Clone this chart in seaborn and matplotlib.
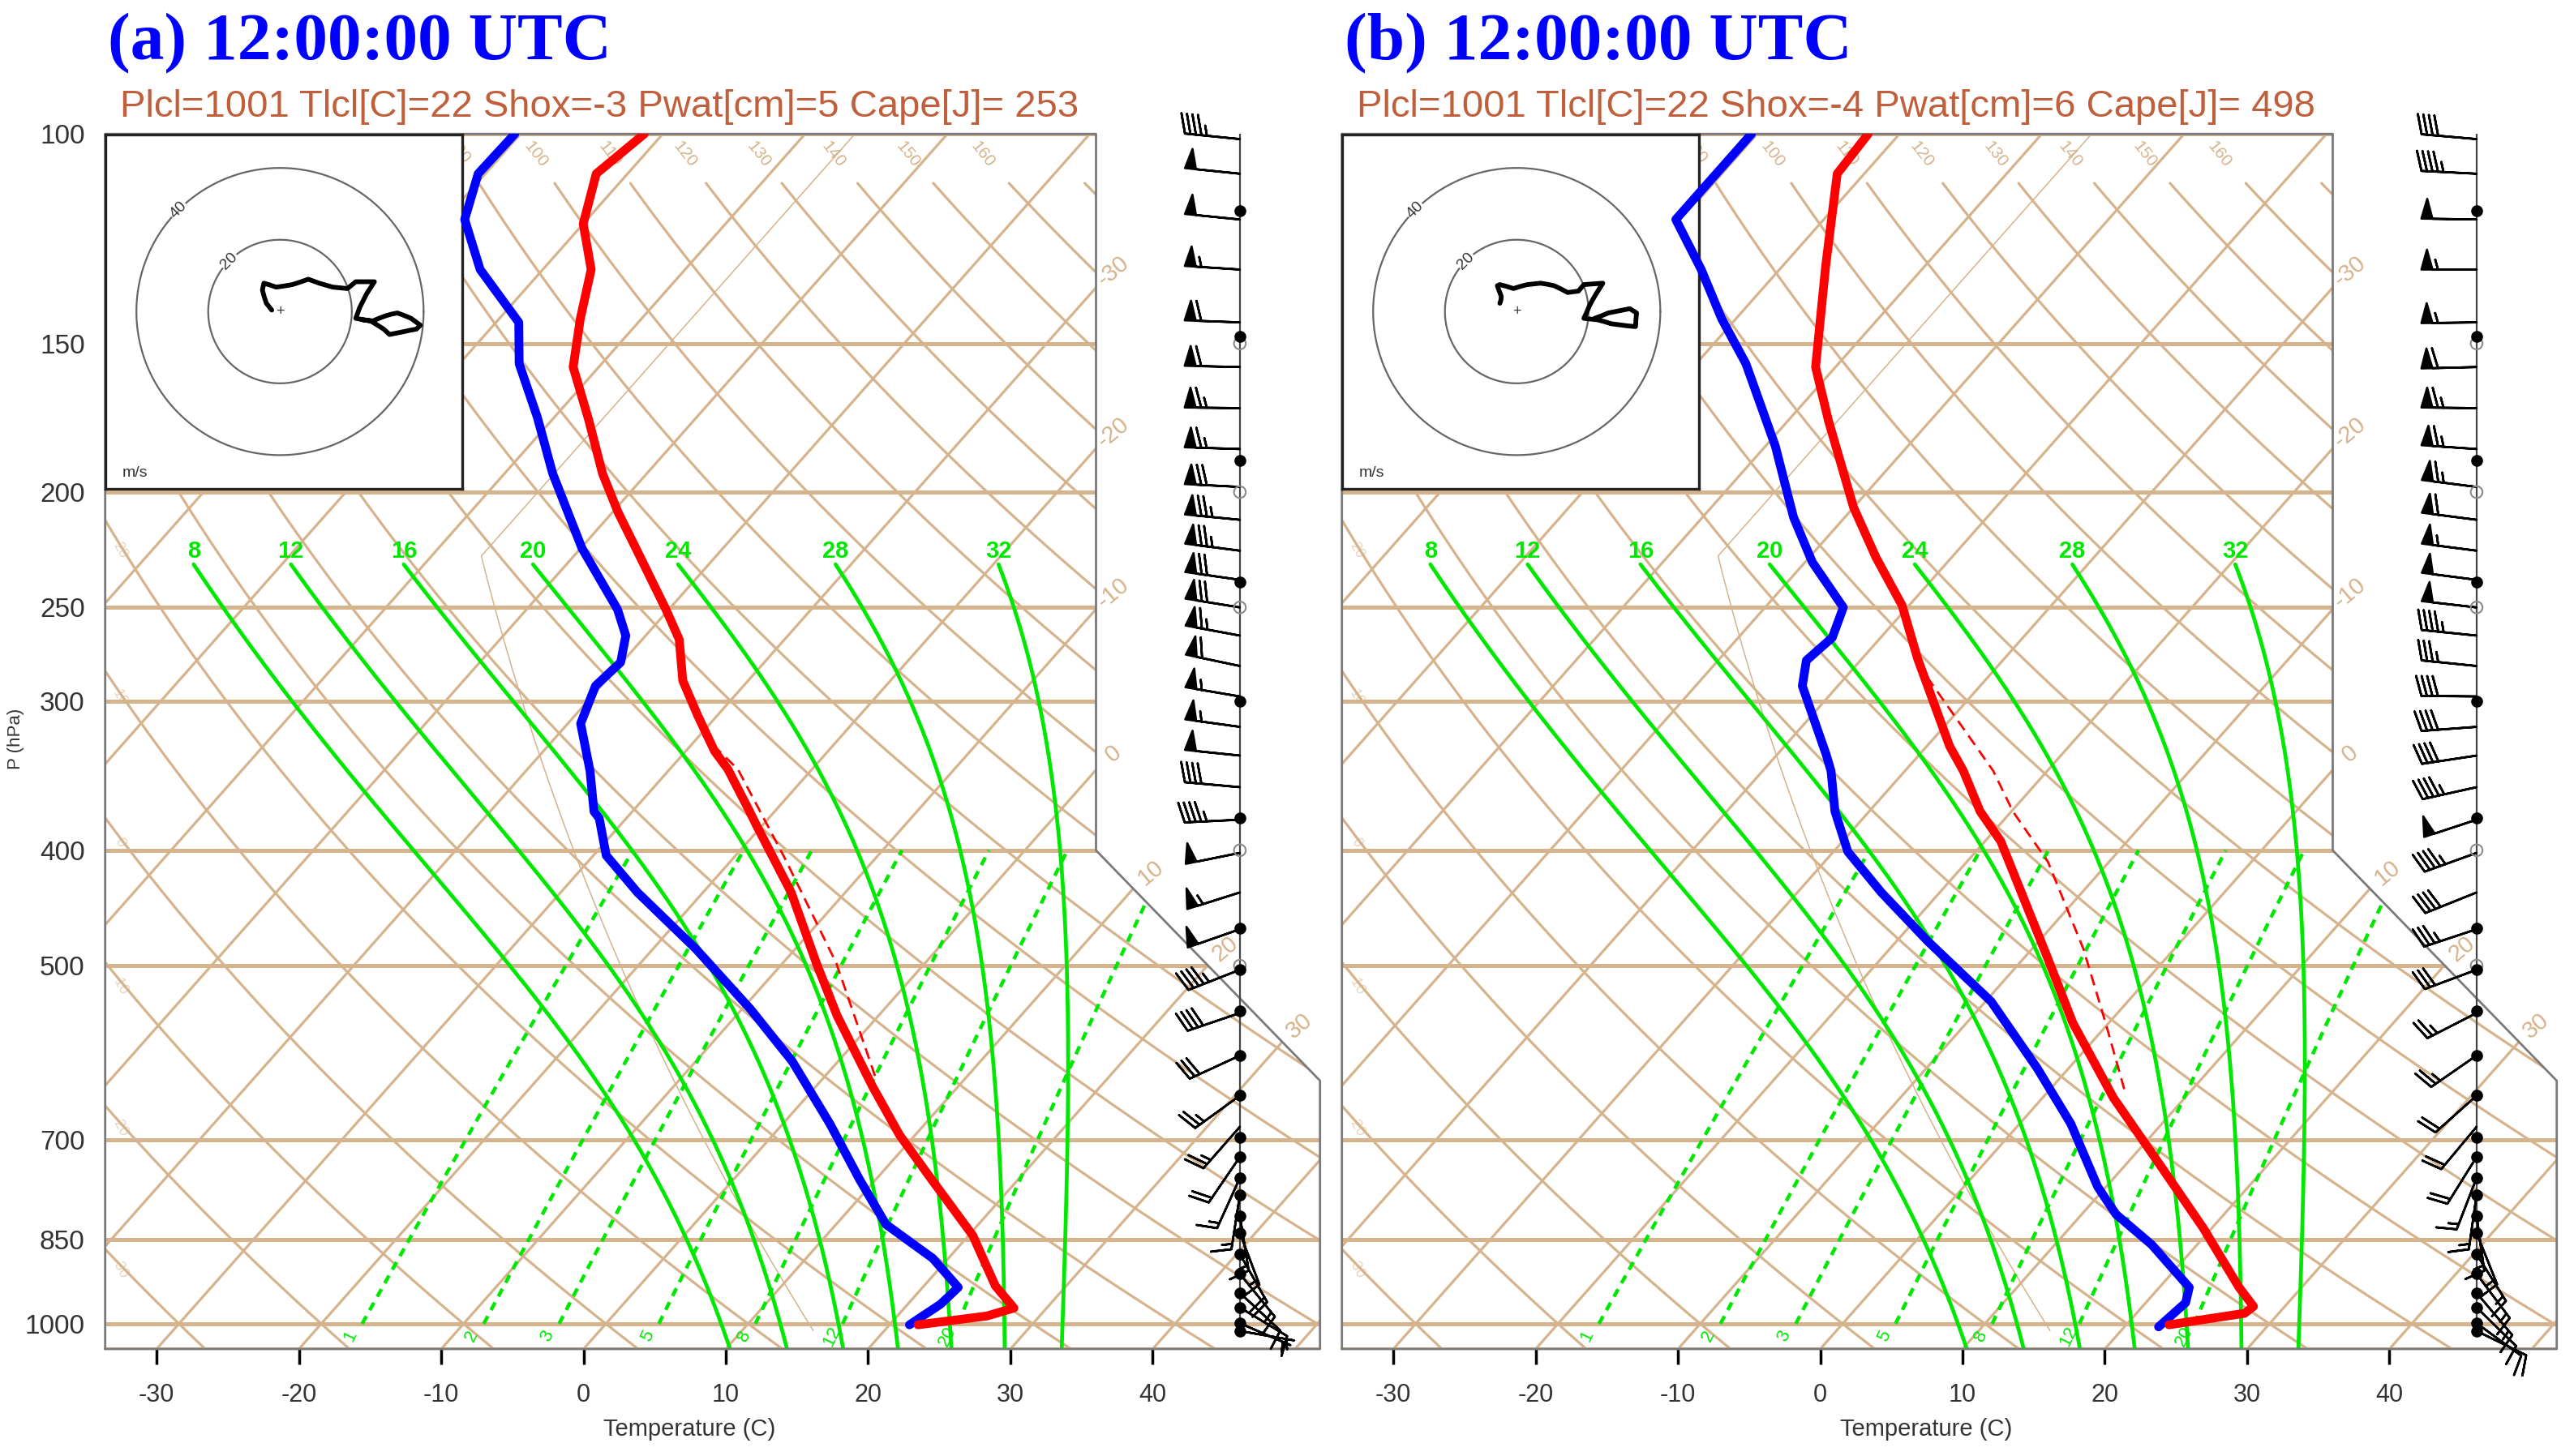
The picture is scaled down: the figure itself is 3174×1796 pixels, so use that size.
import numpy as np
import matplotlib
matplotlib.use("Agg")
import matplotlib.pyplot as plt
import seaborn as sns
from matplotlib.patches import Polygon

# ---- sounding values (p in hPa, T in deg C) ----
# panel (a)
p_t_a = [1002, 985, 970, 929, 843, 751, 694, 632, 551, 498, 434, 382, 370, 342, 330, 308,
         288, 266, 251, 228, 208, 193, 174, 157, 143, 130, 119, 108, 100]
t_a = [22.0, 26.3, 27.7, 25.0, 20.3, 13.5, 8.9, 4.0, -2.9, -7.6, -13.8, -20.3, -21.9, -25.9,
       -28.0, -31.4, -34.6, -37.4, -40.2, -45.0, -49.6, -53.1, -57.4, -61.8, -64.3, -66.6,
       -70.0, -72.2, -71.3]
p_td_a = [1002, 963, 932, 881, 825, 757, 679, 602, 544, 484, 434, 404, 376, 371, 343, 313,
          291, 278, 264, 251, 223, 193, 173, 156, 144, 130, 118, 108, 100]
td_a = [21.4, 22.3, 22.5, 18.9, 13.5, 8.9, 3.3, -3.2, -9.4, -17.0, -24.6, -29.1, -31.9,
        -32.7, -35.5, -39.1, -40.4, -40.1, -41.4, -43.6, -49.9, -56.6, -61.2, -65.8, -68.4,
        -74.4, -78.6, -80.5, -80.4]
p_par_a = [619, 498, 406, 342, 320]
t_par_a = [3.5, -6.2, -16.4, -25.2, -29.8]

# panel (b)
p_t_b = [1002, 980, 967, 932, 831, 735, 646, 559, 491, 393, 371, 343, 327, 276, 249, 227,
         206, 174, 157, 129, 108, 100]
t_b = [23.0, 27.6, 27.8, 25.6, 19.4, 12.4, 5.0, -2.5, -8.5, -18.9, -22.2, -25.9, -28.4,
       -36.1, -40.5, -45.3, -50.0, -57.2, -61.4, -67.0, -71.9, -72.2]
p_td_b = [1006, 960, 932, 858, 809, 767, 679, 610, 536, 477, 434, 401, 371, 343, 332, 291,
          277, 265, 250, 229, 210, 183, 156, 143, 130, 118, 100]
td_b = [22.4, 22.8, 22.1, 16.8, 12.4, 9.4, 3.6, -2.2, -9.6, -17.8, -24.1, -29.0, -32.4,
        -35.2, -36.6, -42.5, -43.8, -43.4, -44.5, -49.5, -53.6, -59.3, -66.5, -71.0, -75.5,
        -80.4, -80.4]
p_par_b = [635, 559, 484, 409, 371, 343, 283]
t_par_b = [5.2, -0.2, -6.4, -14.3, -19.9, -23.8, -34.9]

# winds (m/s) on the model levels, surface first
p_wind = [1014, 999, 969, 942, 908, 874, 839, 812, 779, 754, 724, 683, 643, 595, 548, 504,
          466, 434, 402, 377, 354, 333, 315, 297, 280, 264, 250, 237, 224, 211, 198, 184,
          170, 157, 144, 130, 118, 108, 101]
u_a = [-2.3, -3.0, -3.8, -4.4, -4.9, -4.5, -2.8, -1.1, 1.1, 3.4, 5.6, 7.9, 10.9, 14.7, 18.8,
       21.1, 23.7, 26.3, 24.1, 22.2, 21.1, 25.2, 27.0, 28.9, 30.5, 32.5, 34.5, 36.3, 38.0,
       39.1, 36.5, 34.6, 32.7, 31.2, 29.7, 27.8, 25.9, 24.4, 22.9]
v_a = [0.4, 1.3, 2.3, 4.1, 6.0, 7.9, 7.4, 6.8, 7.1, 7.5, 8.2, 9.0, 7.9, 6.8, 6.4, 8.3, 8.3,
       8.3, 4.9, 1.1, -1.9, -2.6, -3.7, -4.9, -6.4, -6.0, -5.6, -5.2, -4.9, -3.8, -1.9, -1.1,
       -0.4, -0.7, -1.1, -1.8, -2.6, -2.5, -2.3]
u_b = [-4.7, -4.4, -4.3, -4.9, -5.4, -4.7, -2.8, -0.9, 1.0, 2.9, 4.8, 6.6, 8.5, 10.4, 12.3,
       14.2, 17.2, 18.7, 21.3, 24.0, 22.1, 21.1, 20.2, 19.5, 18.7, 22.5, 24.4, 26.3, 28.6,
       30.9, 33.1, 33.2, 33.4, 31.5, 29.5, 27.5, 25.5, 23.6, 21.7]
v_b = [2.3, 3.2, 4.2, 5.8, 7.2, 7.5, 7.0, 6.4, 7.0, 7.5, 7.7, 7.9, 7.6, 7.2, 6.3, 5.3, 5.7,
       7.5, 7.7, 7.9, 4.9, 3.2, 1.5, -0.2, -1.9, -2.3, -2.8, -3.4, -3.7, -4.0, -4.2, -2.3,
       -0.4, 0.8, 0.4, 0.0, -0.4, -1.2, -1.9]
p_dots = [1014, 999, 969, 942, 908, 874, 839, 812, 779, 754, 724, 697, 643, 595, 546, 504,
          465, 376, 300, 238, 188, 148, 116]
p_rings = [150, 200, 250, 400, 500]

# chart furniture
p_labels = [100, 150, 200, 250, 300, 400, 500, 700, 850, 1000]
t_ticks = [-30, -20, -10, 0, 10, 20, 30, 40]
moist_labels = [8, 12, 16, 20, 24, 28, 32]
moist_t1050 = [10.3, 14.3, 18.25, 22.1, 25.85, 29.6, 33.6]   # where each line meets 1050 hPa
mix_ratios = [1, 2, 3, 5, 8, 12, 20]
isotherm_labels = [-30, -20, -10, 0, 10, 20, 30]
theta_top = [90, 100, 110, 120, 130, 140, 150, 160]
theta_left = [-30, -20, -10, 0, 10, 20]

TAN = "#d5b38c"
GREEN = "#00e800"
W, H = 3174.0, 1796.0
XL, XR, YB, YT = -19.0, 27.1, -0.9346217, 44.061
XBARB = 24.06


def sy(p):
    return 132.182 - 44.061 * np.log10(np.asarray(p, dtype=float))


def sx(t, p):
    return 0.54 * np.asarray(t, dtype=float) + 0.90692 * sy(p)


def dry_t(theta, p):
    return (theta + 273.15) * (np.asarray(p) / 1000.0) ** 0.2857 - 273.15


def _ws(tk, p):
    es = 6.1078 * 10 ** (7.5 * (tk - 273.15) / (tk - 35.85))
    return 622.0 * es / (p - es)


def _os(tk, p):
    return tk * (1000.0 / p) ** 0.286 * np.exp(2.6518986 * _ws(tk, p) / tk)


def moist_adiabat(t1050, p_top=230.0):
    # saturated adiabat (old skew-T "os" form), anchored at 1050 hPa
    p = np.geomspace(1050.0, p_top, 200)
    os_ = _os(t1050 + 273.15, 1050.0)
    lo = np.full(p.shape, 150.0)
    hi = np.full(p.shape, 330.0)
    for _ in range(60):
        mid = 0.5 * (lo + hi)
        big = _os(mid, p) > os_
        hi = np.where(big, mid, hi)
        lo = np.where(big, lo, mid)
    return p, 0.5 * (lo + hi) - 273.15


def mixr_td(w, p):
    e = w * np.asarray(p) / (622.0 + w)
    le = np.log(e / 6.112)
    return 243.5 * le / (17.67 - le)


sns.set_theme(style="white")
plt.rcParams['font.family'] = ['Liberation Sans', 'DejaVu Sans']

fig = plt.figure(figsize=(W / 100, H / 100), dpi=100)


def draw_panel(x0, tag, info, pt, tt, ptd, ttd, ppar, tpar, uw, vw, left_labels):
    rect = [x0 / W, (H - 1664) / H, 1498 / W, 1498.8 / H]
    ax = fig.add_axes(rect, label=tag + "main", zorder=1)
    ax.set_xlim(XL, XR)
    ax.set_ylim(YB, YT)
    for s in ax.spines.values():
        s.set_visible(False)
    ax.set_facecolor("none")
    ox = [XL, XR, XR, 18.6, 18.6, XL, XL]
    oy = [YB, YB, 9.0, 17.53, YT, YT, YB]
    clip = Polygon(np.column_stack([ox, oy]), closed=True, transform=ax.transData)

    def clipped(x, y, **kw):
        ln, = ax.plot(x, y, **kw)
        ln.set_clip_path(clip)
        return ln

    # isobars
    for p in p_labels + [1050]:
        clipped([XL, XR], [sy(p), sy(p)], color=TAN, lw=3.6, zorder=2)
    # isotherms
    for t in range(-110, 60, 10):
        clipped(sx([t, t], [1050, 100]), sy([1050, 100]), color=TAN, lw=2.3, zorder=2)
    # dry adiabats
    pp = np.geomspace(1050, 110, 200)
    for th in range(-40, 180, 10):
        clipped(sx(dry_t(th, pp), pp), sy(pp), color=TAN, lw=2.3, zorder=2)
    # standard atmosphere
    ps = np.geomspace(1013.25, 226.32, 100)
    ts = 288.15 * (ps / 1013.25) ** 0.190263 - 273.15
    ps = np.append(ps, 100.0)
    ts = np.append(ts, -56.5)
    clipped(sx(ts, ps), sy(ps), color=TAN, lw=1.1, zorder=2)
    # moist adiabats
    for lab, t0 in zip(moist_labels, moist_t1050):
        pm, tm = moist_adiabat(t0)
        clipped(sx(tm, pm), sy(pm), color=GREEN, lw=3.4, zorder=3)
        ax.text(sx(tm[-1], pm[-1]), sy(pm[-1]) + 0.05, str(lab), color=GREEN, fontsize=21,
                fontweight="bold", ha="center", va="bottom", zorder=3)
    # mixing ratio lines
    pw = np.geomspace(1000, 400, 60)
    for w in mix_ratios:
        clipped(sx(mixr_td(w, pw), pw), sy(pw), color=GREEN, lw=3.2,
                ls=(0, (2.4, 1.9)), zorder=3)
        ax.text(sx(mixr_td(w, 1024), 1024) - 0.2, sy(1024), str(w), color=GREEN, fontsize=16,
                rotation=64, ha="center", va="center", zorder=3)
    # outline
    ax.plot(ox, oy, color="#7a7a7a", lw=2.0, zorder=4, clip_on=False)

    # grid labels
    for th in theta_top:
        ax.text(sx(dry_t(th, 104), 104), sy(104), str(th), color=TAN, fontsize=15,
                rotation=-52, ha="center", va="center", zorder=2)
    pf = np.geomspace(1050, 150, 400)
    for th in theta_left:
        xx = sx(dry_t(th, pf), pf)
        pc = np.interp(XL + 0.7, xx[::-1], pf[::-1])
        ax.text(XL + 0.55, sy(pc), str(th), color=TAN, alpha=0.55, fontsize=13,
                rotation=-62, ha="center", va="center", zorder=2)
    for t in isotherm_labels:
        ye = (18.6 - 0.54 * t) / 0.90692
        if ye < 17.53:
            ye = (18.6 + 0.99648 * 17.53 - 0.54 * t) / (0.99648 + 0.90692)
        xe = 0.54 * t + 0.90692 * ye
        ax.text(xe + 0.65, ye + 0.6, str(t), color=TAN, fontsize=21, rotation=40,
                ha="center", va="center", zorder=2, clip_on=False)

    # wind barbs
    ax.plot([XBARB, XBARB], sy([100, 1014]), color="#444444", lw=1.6, zorder=5)
    kt = 1.944
    ax.barbs(np.full(len(p_wind), XBARB), sy(p_wind), np.array(uw) * kt, np.array(vw) * kt,
             length=9.9, linewidth=1.9, color="black", zorder=6, clip_on=False,
             sizes=dict(height=0.36, width=0.2, spacing=0.1))
    ax.scatter(np.full(len(p_rings), XBARB), sy(p_rings), s=110, facecolors="none",
               edgecolors="#8a8a8a", linewidths=1.5, zorder=6, clip_on=False)
    ax.scatter(np.full(len(p_dots), XBARB), sy(p_dots), s=90, color="black", zorder=7,
               clip_on=False)

    # axes ticks
    ax.set_xticks(sx(t_ticks, 1050), labels=[str(t) for t in t_ticks])
    ax.tick_params(axis="x", direction="out", length=14, width=2.5, color="black",
                   pad=16, labelsize=22, labelcolor="#333333", bottom=True)
    if left_labels:
        ax.set_yticks(sy(p_labels), labels=[str(p) for p in p_labels])
        ax.tick_params(axis="y", length=0, pad=18, labelsize=24, labelcolor="#333333")
        fig.text((x0 - 110) / W, 1 - 911 / H, "P (hPa)", rotation=90, fontsize=16,
                 color="#333333", ha="center", va="center")
    else:
        ax.set_yticks([])
    ax.grid(False)

    # hodograph inset
    hx = fig.add_axes([x0 / W, (H - 603) / H, 440 / W, 437 / H], label=tag + "hodo", zorder=2)
    hx.set_facecolor("white")
    hx.set_xlim(-48.7, 50.7)
    hx.set_ylim(-49.4, 49.3)
    hx.set_xticks([])
    hx.set_yticks([])
    for s in hx.spines.values():
        s.set_visible(True)
        s.set_color("#222222")
        s.set_linewidth(2.4)
    ang = np.linspace(0, 2 * np.pi, 240)
    for r in (20, 40):
        hx.plot(r * np.cos(ang), r * np.sin(ang), color="#666666", lw=1.6)
        hx.text(r * np.cos(np.radians(135)), r * np.sin(np.radians(135)), str(r),
                rotation=45, ha="center", va="center", fontsize=14, color="#333333",
                bbox=dict(facecolor="white", edgecolor="none", pad=0.5))
    hx.text(0, 0, "+", ha="center", va="center", fontsize=13, color="#333333")
    hx.text(-40.3, -45.1, "m/s", ha="center", va="center", fontsize=14, color="#333333")
    sns.lineplot(x=uw, y=vw, sort=False, estimator=None, color="black", linewidth=4.2, ax=hx)
    hx.set_xlabel("")
    hx.set_ylabel("")

    # profiles on a transparent overlay
    ov = fig.add_axes(rect, label=tag + "prof", zorder=3)
    ov.patch.set_visible(False)
    sns.lineplot(x=sx(ttd, ptd), y=sy(ptd), sort=False, estimator=None, color="#0000ff",
                 linewidth=7.8, ax=ov)
    sns.lineplot(x=sx(tt, pt), y=sy(pt), sort=False, estimator=None, color="#ff0000",
                 linewidth=7.8, ax=ov)
    sns.lineplot(x=sx(tpar, ppar), y=sy(ppar), sort=False, estimator=None, color="#ff0000",
                 linewidth=2.0, linestyle=(0, (5, 3)), ax=ov)
    ov.set_xlim(XL, XR)
    ov.set_ylim(YB, YT)
    ov.axis("off")

    # titles and axis names
    fig.text((x0 + 3) / W, 1 - 73 / H, f"({tag}) 12:00:00 UTC", color="#0000ff",
             fontsize=60, fontweight="bold", family=["Liberation Serif", "DejaVu Serif"],
             ha="left", va="baseline")
    fig.text((x0 + 18) / W, 1 - 144 / H, info, color="#c05f3c", fontsize=34,
             ha="left", va="baseline")
    fig.text((x0 + 720) / W, 1 - 1763 / H, "Temperature (C)", fontsize=21,
             color="#333333", ha="center", va="center")


draw_panel(129.7, "a", "Plcl=1001 Tlcl[C]=22 Shox=-3 Pwat[cm]=5 Cape[J]= 253",
           p_t_a, t_a, p_td_a, td_a, p_par_a, t_par_a, u_a, v_a, True)
draw_panel(1654.7, "b", "Plcl=1001 Tlcl[C]=22 Shox=-4 Pwat[cm]=6 Cape[J]= 498",
           p_t_b, t_b, p_td_b, td_b, p_par_b, t_par_b, u_b, v_b, False)

fig.savefig("out.png", dpi=100)
